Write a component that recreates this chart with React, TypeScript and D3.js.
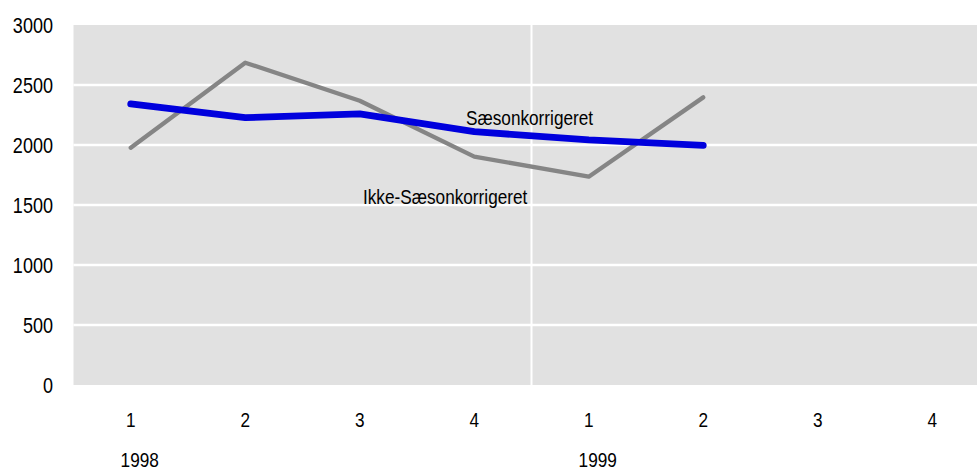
import React, { useRef, useEffect } from 'react';
import * as d3 from 'd3';

const quarters = ['1', '2', '3', '4', '1', '2', '3', '4'];
const years = ['1998', '1999'];
const yTicks = [0, 500, 1000, 1500, 2000, 2500, 3000];
const ikkeSaeson = [1977, 2686, 2369, 1903, 1736, 2397];
const saeson = [2342, 2228, 2260, 2111, 2042, 1997];

const FONT = '"Liberation Sans", Arial, sans-serif';
const SQUEEZE = 0.86; // narrow look, no condensed font installed

export default function App() {
  const ref = useRef<SVGSVGElement>(null);

  useEffect(() => {
    document.body.style.margin = '0';
    if (!ref.current) return;
    const width = 977;
    const left = 73.5;
    const top = 25;
    const bottom = 385;
    const step = 114.5;

    const svg = d3.select(ref.current);
    svg.selectAll('*').remove();

    const idx = quarters.map((_, i) => i);
    const x = d3
      .scaleBand<number>()
      .domain(idx)
      .range([left, left + step * quarters.length]);
    const y = d3.scaleLinear().domain([0, 3000]).range([bottom, top]);
    const cx = (i: number) => (x(i) as number) + x.bandwidth() / 2;

    // helper: narrow text via horizontal scale
    const label = (
      g: d3.Selection<any, any, any, any>,
      tx: number,
      ty: number,
      txt: string,
      size: number,
      anchor: string,
      dy = '0',
      sq = SQUEEZE
    ) =>
      g
        .append('text')
        .attr('transform', `translate(${tx},${ty}) scale(${sq},1)`)
        .attr('dy', dy)
        .attr('text-anchor', anchor)
        .attr('font-family', FONT)
        .attr('font-size', size)
        .attr('fill', '#000')
        .text(txt);

    // plot background
    svg
      .append('rect')
      .attr('x', left)
      .attr('y', top)
      .attr('width', step * quarters.length)
      .attr('height', bottom - top)
      .attr('fill', '#e1e1e1');

    // horizontal gridlines
    svg
      .selectAll('line.grid')
      .data(yTicks.filter(t => t > 0 && t < 3000))
      .enter()
      .append('line')
      .attr('class', 'grid')
      .attr('x1', left)
      .attr('x2', width)
      .attr('y1', d => y(d))
      .attr('y2', d => y(d))
      .attr('stroke', '#ffffff')
      .attr('stroke-width', 2.5);

    // year separator
    svg
      .append('line')
      .attr('x1', x(4) as number)
      .attr('x2', x(4) as number)
      .attr('y1', top)
      .attr('y2', bottom)
      .attr('stroke', '#ffffff')
      .attr('stroke-width', 2);

    // y axis labels
    const gy = svg.append('g');
    yTicks.forEach(t => label(gy, 53, y(t), String(t), 22, 'end', '0.36em', 0.82));

    // x axis quarter labels
    const gx = svg.append('g');
    idx.forEach(i => label(gx, cx(i), 420, quarters[i], 20, 'middle', '0.36em'));

    // year labels
    const gyr = svg.append('g');
    years.forEach((yr, i) => label(gyr, cx(i * 4) + 9, 459, yr, 21, 'middle', '0.36em', 0.82));

    const line = d3
      .line<number>()
      .x((_, i) => cx(i))
      .y(d => y(d));

    svg
      .append('path')
      .datum(ikkeSaeson)
      .attr('d', line)
      .attr('fill', 'none')
      .attr('stroke', '#858585')
      .attr('stroke-width', 4.3)
      .attr('stroke-linecap', 'round')
      .attr('stroke-linejoin', 'round');

    svg
      .append('path')
      .datum(saeson)
      .attr('d', line)
      .attr('fill', 'none')
      .attr('stroke', '#0000dd')
      .attr('stroke-width', 6.8)
      .attr('stroke-linecap', 'round')
      .attr('stroke-linejoin', 'round');

    // series labels
    label(svg, 466, 125, 'Sæsonkorrigeret', 20, 'start');
    label(svg, 363, 204, 'Ikke-Sæsonkorrigeret', 20, 'start');
  });

  return (
    <svg
      ref={ref}
      width={977}
      height={470}
      style={{ position: 'absolute', left: 0, top: 0, background: '#fff' }}
    />
  );
}
